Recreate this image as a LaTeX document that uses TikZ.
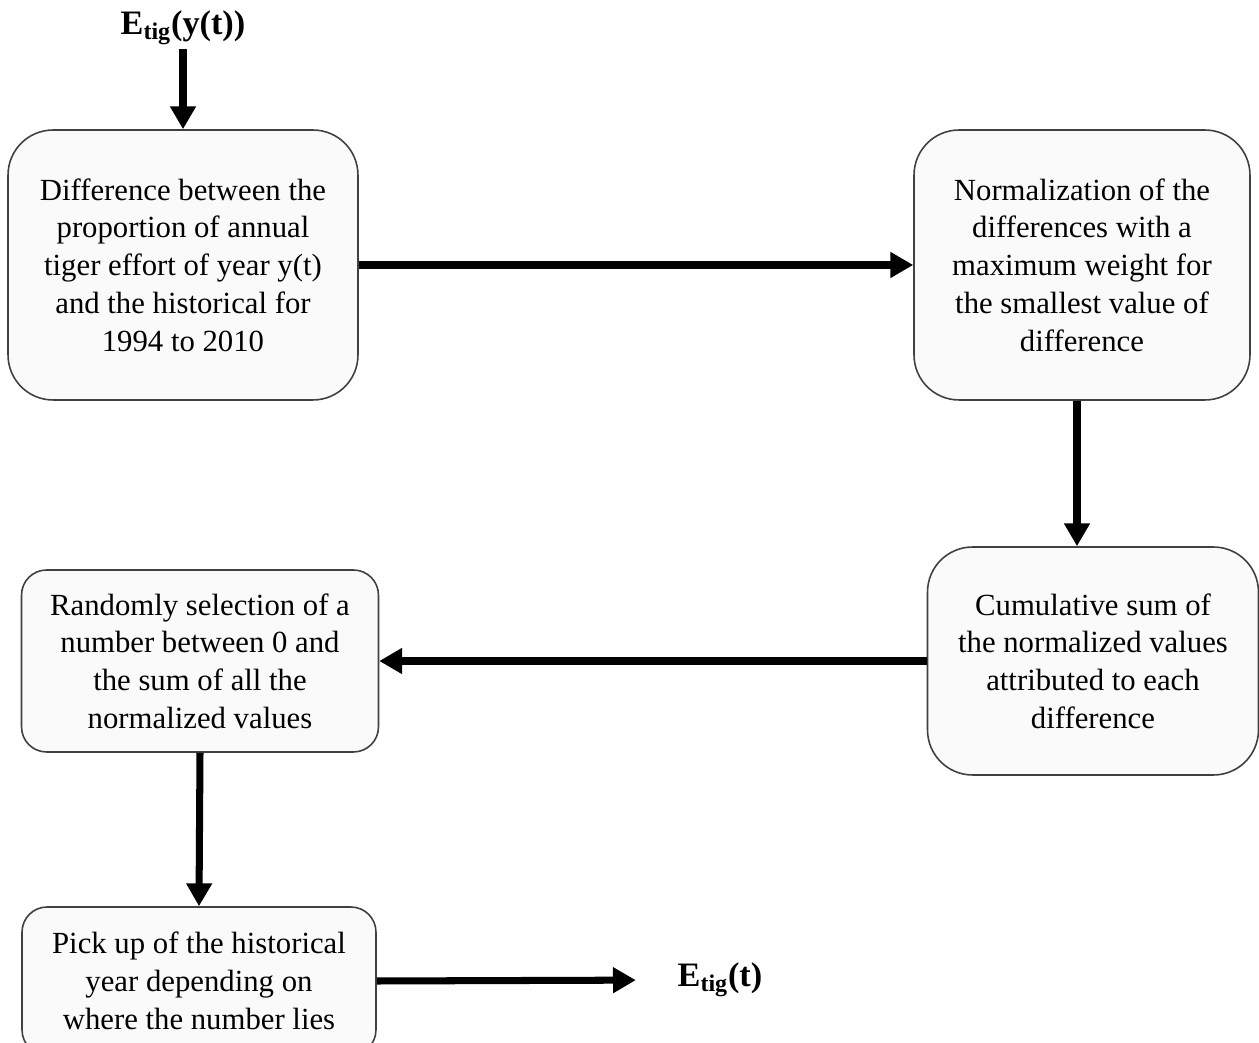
\documentclass[tikz,border=0pt]{standalone}
\usepackage{fontspec}
\setmainfont{Liberation Serif}
\usetikzlibrary{arrows.meta, positioning, calc}

\tikzset{
    stepbox/.style={draw=black!75, line width=0.9pt, fill=black!2, rounded corners=0.9cm,
        align=center, font=\fontsize{17.5}{21.5}\selectfont, inner sep=0pt},
    flow/.style={line width=4pt, -{Triangle[length=13pt, width=14pt]}},
    label/.style={font=\fontsize{19.5}{21}\selectfont\bfseries, inner sep=2pt}
}

\begin{document}
\begin{tikzpicture}[x=0.02cm, y=-0.02cm]
    \useasboundingbox (0,0) rectangle (1259,1043);

    % Input and output labels
    \node[label] (inp) at (183,28) {E\textsubscript{tig}(y(t))};
    \node[label] (outp) at (720,980) {E\textsubscript{tig}(t)};

    % Process boxes
    \node[stepbox, minimum width=7cm, minimum height=5.4cm] (diff) at (183,265)
        {Difference between the\\ proportion of annual\\ tiger effort of year y(t)\\ and the historical for\\ 1994 to 2010};
    \node[stepbox, minimum width=6.72cm, minimum height=5.4cm] (norm) at (1082,265)
        {Normalization of the\\ differences with a\\ maximum weight for\\ the smallest value of\\ difference};
    \node[stepbox, minimum width=6.62cm, minimum height=4.56cm] (cums) at (1093,661)
        {Cumulative sum of\\ the normalized values\\ attributed to each\\ difference};
    \node[stepbox, rounded corners=0.5cm, minimum width=7.14cm, minimum height=3.64cm] (rand) at (200,661)
        {Randomly selection of a\\ number between 0 and\\ the sum of all the\\ normalized values};
    \node[stepbox, rounded corners=0.5cm, minimum width=7.08cm, minimum height=2.96cm] (pick) at (199,981)
        {Pick up of the historical\\ year depending on\\ where the number lies};
    \coordinate (normout) at ($(norm.south)+(-5,0)$);

    % Connectors
    \draw[flow] (inp.south) -- (diff.north);
    \draw[flow] (diff.east) -- (norm.west);
    \draw[flow] (normout) -- (normout |- cums.north);
    \draw[flow] (cums.west) -- (rand.east);
    \draw[flow] (rand.south) -- (pick.north);
    \draw[flow, shorten >=0.76cm] (pick.east) -- (outp.west);
\end{tikzpicture}
\end{document}
